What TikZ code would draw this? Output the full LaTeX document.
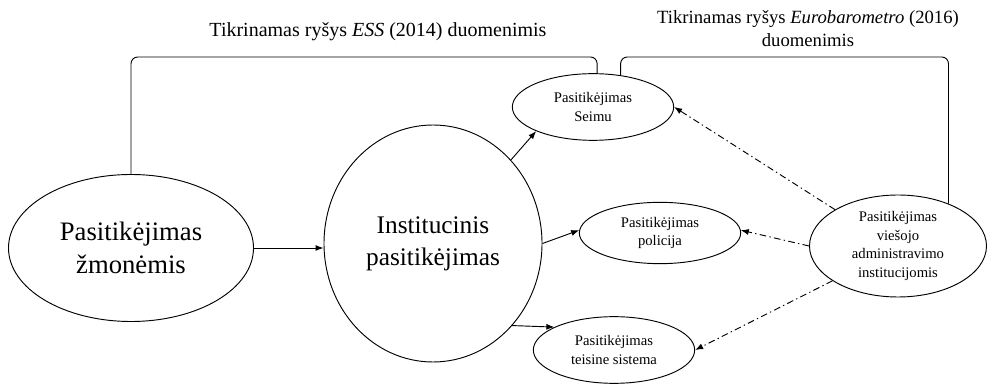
\documentclass[tikz,border=0pt]{standalone}
\usepackage{fontspec}
\setmainfont{Liberation Serif}
\usepackage{tikz}
\usetikzlibrary{positioning,shapes.geometric,arrows.meta,calc}

\begin{document}
\begin{tikzpicture}[x=0.75pt,y=-0.75pt,
		oval/.style={ellipse, draw, line width=0.7pt, inner sep=0pt, align=center},
		small/.style={oval, minimum width=121pt, minimum height=50pt,
		font=\fontsize{11}{14}\selectfont},
		link/.style={-{Latex[length=6pt,width=4.5pt]}, line width=0.7pt},
		dlink/.style={link, dash pattern=on 5pt off 2.5pt on 1pt off 2.5pt},
		title/.style={font=\fontsize{14}{17.25}\selectfont, align=center}]
		\useasboundingbox (0,0) rectangle (990,384);
		\node[oval, minimum width=183.75pt, minimum height=110.25pt,
			font=\fontsize{20}{25}\selectfont] (people) at (131,248) {Pasitikėjimas\\žmonėmis};
		\node[oval, minimum width=163.5pt, minimum height=177.75pt,
			font=\fontsize{19}{24}\selectfont] (inst) at (433,243.5) {Institucinis\\pasitikėjimas};
		\node[small] (seimas) at (593,107) {Pasitikėjimas\\Seimu};
		\node[small, minimum height=46pt] (police) at (660,233) {Pasitikėjimas\\policija};
		\node[small] (court) at (614,350) {Pasitikėjimas\\teisine sistema};
		\node[small, minimum width=132.75pt, minimum height=76.5pt] (admin) at (898,246)
			{Pasitikėjimas\\viešojo\\administravimo\\institucijomis};
		% titles and brackets
		\coordinate (top) at (0,57);
		\node[title, font=\fontsize{15}{18}\selectfont] (ess) at (378,32)
			{Tikrinamas ryšys \textit{ESS} (2014) duomenimis};
		\node[title] (euro) at (808,28.5) {Tikrinamas ryšys \textit{Eurobarometro} (2016)\\duomenimis};
		\draw[line width=0.7pt, rounded corners=5pt] (people.north) |- (seimas.83 |- top) -- (seimas.83);
		\draw[line width=0.7pt, rounded corners=5pt] (seimas.49) |- (admin.40 |- top) -- (admin.40);
		% arrows
		\draw[link] (people.east) -- (inst.west |- people.east);
		\draw[link] (inst.47) -- (seimas.203);
		\draw[link] (inst.0) -- (police.178);
		\draw[link] (inst.-46) -- (court.159);
		\draw[dlink] (admin.150) -- (seimas.east);
		\draw[dlink] (admin.west) -- (police.2);
		\draw[dlink] (admin.208) -- (court.east);
	\end{tikzpicture}
\end{document}
